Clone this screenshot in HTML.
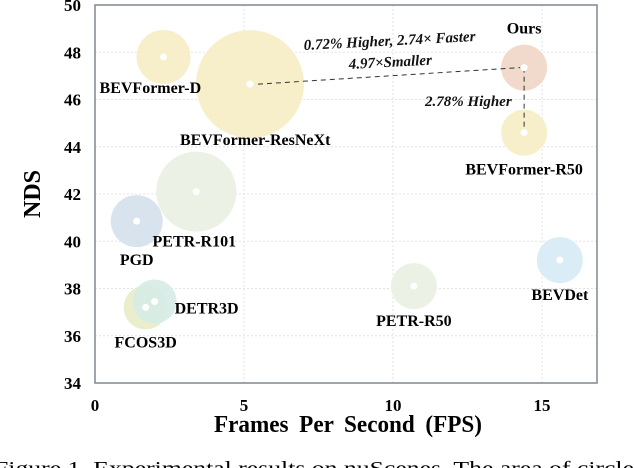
<!DOCTYPE html>
<html><head><meta charset="utf-8">
<style>
body{margin:0;background:#fff;width:634px;height:468px;overflow:hidden;}
svg{display:block;font-family:"Liberation Serif",serif;}
</style></head>
<body>
<svg id="chart" width="634" height="468">
</svg>
<script>
const names = ["BEVFormer-D","BEVFormer-ResNeXt","Ours","BEVFormer-R50","PETR-R101","PGD","FCOS3D","DETR3D","PETR-R50","BEVDet"];
const fps = [2.3,5.2,14.4,14.4,3.4,1.4,1.7,2.0,10.7,15.6];
const nds = [47.8,46.65,47.35,44.6,42.1,40.85,37.2,37.45,38.1,39.2];
const radii = [27,54,23,23,40,26,22,22,23,23];
const xTicks = [0,5,10,15];
const yTicks = [34,36,38,40,42,44,46,48,50];

const colors = ["#f6ecc4","#f6ecc4","#efd6c6","#f6ecc4","#e9f0e2","#d5e0ec","#e9ecc8","#d6ebe6","#e9f0e2","#d6ebf5"];
const labelPos = [[-64,36,"start"],[-70,61,"start"],[0,-34,"middle"],[0,42,"middle"],[-2,55,"middle"],[0,44,"middle"],[0,40,"middle"],[20,12,"start"],[0,40,"middle"],[0,40,"middle"]];

const X0=95, X1=597, Y0=5, Y1=383;
const xs = v => X0 + v*29.8;
const ys = v => Y0 + (50-v)*(Y1-Y0)/16;
const svg = document.getElementById('chart');
const NS="http://www.w3.org/2000/svg";
function mk(tag, attrs, parent){const e=document.createElementNS(NS,tag);for(const k in attrs)e.setAttribute(k,attrs[k]);(parent||svg).appendChild(e);return e;}

yTicks.forEach(t=>{
  if(t>34&&t<50){const g=mk('line',{x1:X0,x2:X1,y1:ys(t),y2:ys(t),stroke:'#e3e3e3','stroke-dasharray':'2,2'});
  
  }
  const l=mk('text',{x:X0-14,y:ys(t)+6,'text-anchor':'end','font-size':17,'font-weight':'bold'});l.textContent=t;
  
  
});
xTicks.forEach(t=>{
  if(t>0){const g=mk('line',{x1:xs(t),x2:xs(t),y1:Y0,y2:Y1,stroke:'#e3e3e3','stroke-dasharray':'2,2'});
  
  }
  const l=mk('text',{x:xs(t),y:Y1+28,'text-anchor':'middle','font-size':17,'font-weight':'bold'});l.textContent=t;
  
  
});
const frame=mk('rect',{x:X0,y:Y0,width:X1-X0,height:Y1-Y0,fill:'none',stroke:'#7f8790','stroke-width':1.5});



names.forEach((n,i)=>{
  const c=mk('circle',{cx:xs(fps[i]),cy:ys(nds[i]),r:radii[i],fill:colors[i],'fill-opacity':0.9});
  
  
});
const d1=mk('line',{x1:xs(fps[1])+8,y1:ys(nds[1]),x2:xs(fps[2])-4,y2:ys(nds[2]),stroke:'#333','stroke-dasharray':'5,4','stroke-width':1});


const d2=mk('line',{x1:xs(fps[2]),y1:ys(nds[2]),x2:xs(fps[3]),y2:ys(nds[3]),stroke:'#333','stroke-dasharray':'5,4','stroke-width':1});


names.forEach((n,i)=>{
  const c=mk('circle',{cx:xs(fps[i]),cy:ys(nds[i]),r:3.5,fill:'#fff'});
  
  
  const p=labelPos[i];
  const t=mk('text',{x:xs(fps[i])+p[0],y:ys(nds[i])+p[1],'text-anchor':p[2],'font-size':16,'font-weight':'bold'});
  t.textContent=n;
  
  
});
</script>
<svg style="position:absolute;left:0;top:0" width="634" height="468">
<g font-family="Liberation Serif, serif" font-weight="bold" font-style="italic" font-size="15" fill="#111">
<text x="304" y="50" transform="rotate(-3 304 50)">0.72% Higher,  2.74× Faster</text>
<text x="349" y="69" transform="rotate(-3 349 69)">4.97×Smaller</text>
<text x="425" y="106">2.78% Higher</text>
</g>
<text x="40" y="194" transform="rotate(-90 40 194)" text-anchor="middle" font-family="Liberation Serif, serif" font-weight="bold" font-size="24">NDS</text>
<text x="214" y="432" textLength="268" lengthAdjust="spacingAndGlyphs" font-family="Liberation Serif, serif" font-weight="bold" font-size="24" word-spacing="5">Frames Per Second (FPS)</text>
<text x="-6" y="475" textLength="650" lengthAdjust="spacingAndGlyphs" font-family="Liberation Serif, serif" font-size="20">Figure 1.  Experimental results on nuScenes.  The area of circles</text>
</svg>
</body></html>
